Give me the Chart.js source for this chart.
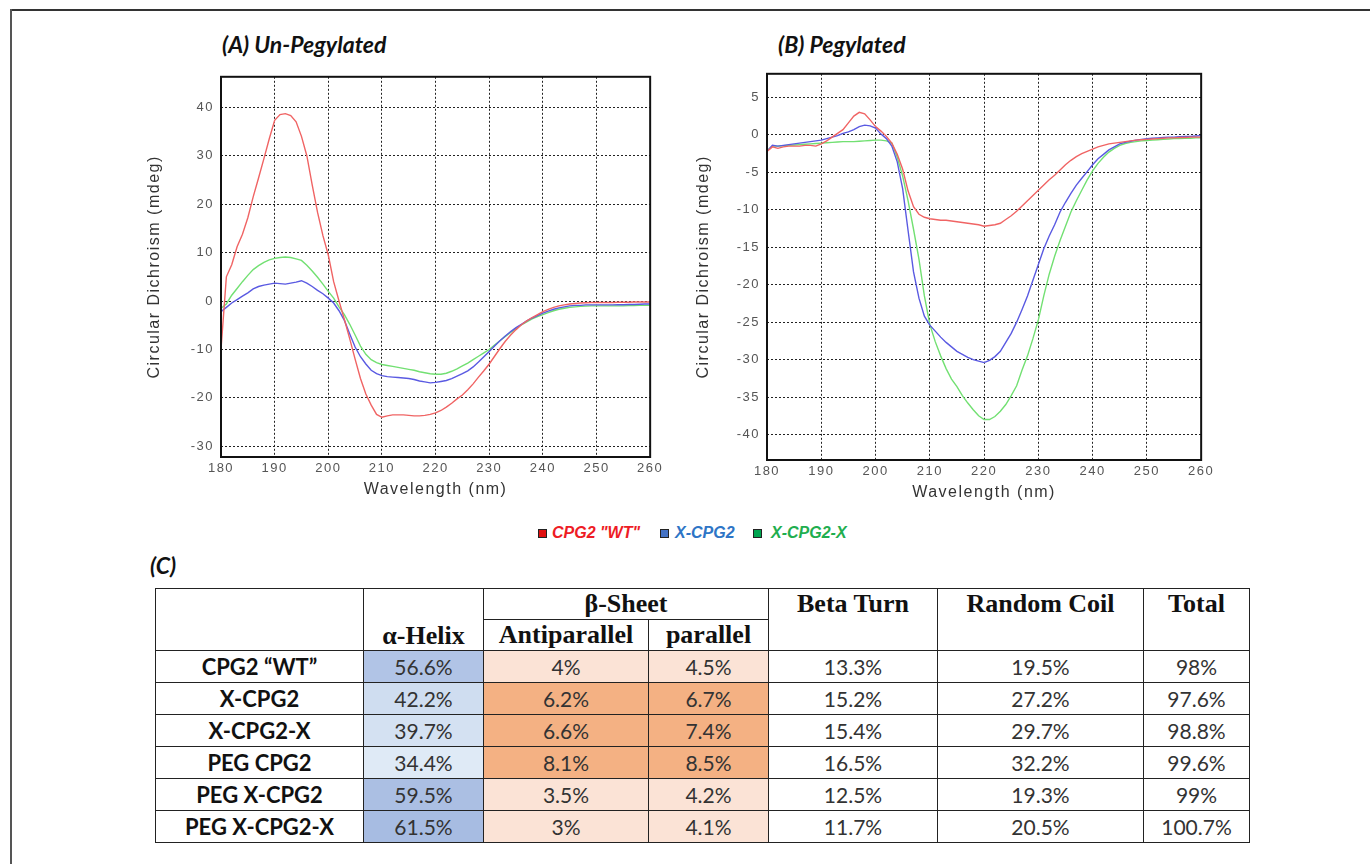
<!DOCTYPE html>
<html>
<head>
<meta charset="utf-8">
<script src="https://cdn.jsdelivr.net/npm/chart.js@4.4.1/dist/chart.umd.min.js"></script>
<style>
  body { margin: 0; width: 1370px; height: 864px; background: #fff; position: relative; overflow: hidden; font-family: "Liberation Sans", Arial, sans-serif; }
  .edge-top { position: absolute; left: 10px; top: 9px; width: 1360px; height: 2px; background: #333; }
  .edge-left { position: absolute; left: 10px; top: 9px; width: 2px; height: 855px; background: #555; }
  .box { position: absolute; }
  .ptitle { position: absolute; font: italic bold 23px Lato, "Open Sans", sans-serif; color: #111; }
  .leg { position: absolute; top: 524px; font: italic bold 16px "Liberation Sans", Arial, sans-serif; line-height: 18px; }
  .sq { position: absolute; top: 529px; width: 7px; height: 7px; border: 1px solid #222; }
  #ctitle { position: absolute; left: 150px; top: 551px; font: italic bold 23px Lato, sans-serif; color: #111; }
  #tbl { position: absolute; left: 155px; top: 588px; border-collapse: collapse; table-layout: fixed; width: 1094px; }
  #tbl th, #tbl td { border: 1.5px solid #222; padding: 0; text-align: center; }
  #tbl th { font: bold 26px "Liberation Serif", "Times New Roman", serif; color: #111; }
  #tbl tr.h1 { height: 30px; }
  #tbl tr.h2 { height: 28px; }
  #tbl th.top { vertical-align: top; line-height: 30px; }
  #tbl th.bot { vertical-align: bottom; line-height: 28px; }
  #tbl tbody tr { height: 32px; }
  #tbl td { font: 21px/30px Lato, sans-serif; color: #333; }
  #tbl td.lab { font: bold 22px/30px Lato, sans-serif; color: #111; }
</style>
</head>
<body>
<div class="edge-top"></div>
<div class="edge-left"></div>

<div class="ptitle" style="left:222px; top:30px;">(A) Un-Pegylated</div>
<div class="ptitle" style="left:778px; top:30px;">(B) Pegylated</div>

<div class="box" style="left:130px; top:62px;"><canvas id="chartA" width="535" height="445"></canvas></div>
<div class="box" style="left:676px; top:59px;"><canvas id="chartB" width="540" height="451"></canvas></div>

<div id="legend"></div>

<div id="ctitle">(C)</div>
<table id="tbl">
  <colgroup>
    <col style="width:208px"><col style="width:120px"><col style="width:165px"><col style="width:120px">
    <col style="width:169px"><col style="width:206px"><col style="width:106px">
  </colgroup>
  <thead>
    <tr class="h1">
      <th rowspan="2"></th>
      <th rowspan="2" class="bot">α-Helix</th>
      <th colspan="2">β-Sheet</th>
      <th rowspan="2" class="top">Beta Turn</th>
      <th rowspan="2" class="top">Random Coil</th>
      <th rowspan="2" class="top">Total</th>
    </tr>
    <tr class="h2"><th>Antiparallel</th><th>parallel</th></tr>
  </thead>
  <tbody id="tb"></tbody>
</table>

<script>
// wavelength (nm)
const wavelengths = [
  180, 181, 182, 183, 184, 185, 186, 187, 188, 189,
  190, 191, 192, 193, 194, 195, 196, 197, 198, 199,
  200, 201, 202, 203, 204, 205, 206, 207, 208, 209,
  210, 211, 212, 213, 214, 215, 216, 217, 218, 219,
  220, 221, 222, 223, 224, 225, 226, 227, 228, 229,
  230, 231, 232, 233, 234, 235, 236, 237, 238, 239,
  240, 241, 242, 243, 244, 245, 246, 247, 248, 249,
  250, 251, 252, 253, 254, 255, 256, 257, 258, 259,
  260
];

// (A) Un-Pegylated, mdeg
const wtUnpeg = [
  -10, 5, 7.5, 11.2, 13.8, 17.2, 21.5, 25.4, 29.4, 33.5,
  37.3, 38.5, 38.7, 38.3, 37, 34, 30, 24, 18.3, 13.5,
  9.5, 4, 0, -3.8, -7.8, -12, -16, -19.2, -21.5, -23.4,
  -24, -23.7, -23.5, -23.5, -23.5, -23.6, -23.7, -23.7, -23.6, -23.4,
  -23.1, -22.6, -21.9, -21.1, -20.2, -19.4, -18.3, -17.1, -15.7, -14.4,
  -13, -11.4, -9.8, -8.3, -7, -5.9, -4.9, -4.1, -3.4, -2.8,
  -2.2, -1.7, -1.3, -1, -0.8, -0.6, -0.5, -0.4, -0.35, -0.3,
  -0.3, -0.3, -0.3, -0.3, -0.25, -0.25, -0.25, -0.2, -0.2, -0.2,
  -0.2
];
const xcpgUnpeg = [
  -2.2, -1.3, -0.4, 0.3, 1.0, 1.7, 2.5, 3.0, 3.3, 3.5,
  3.7, 3.6, 3.5, 3.7, 3.9, 4.2, 3.7, 3.0, 2.2, 1.5,
  0.6, -0.4, -2.0, -4.0, -6.8, -9.5, -11.5, -13.0, -14.3, -15.0,
  -15.4, -15.6, -15.7, -15.8, -15.9, -16.0, -16.2, -16.5, -16.7, -16.9,
  -16.8, -16.6, -16.4, -16.0, -15.5, -15.0, -14.4, -13.6, -12.6, -11.5,
  -10.4, -9.3, -8.2, -7.2, -6.3, -5.5, -4.8, -4.1, -3.5, -3.0,
  -2.5, -2.1, -1.7, -1.4, -1.2, -1.0, -0.9, -0.9, -0.8, -0.8,
  -0.8, -0.8, -0.8, -0.8, -0.75, -0.75, -0.7, -0.7, -0.65, -0.6,
  -0.6
];
const xcpgxUnpeg = [
  -1.5, -0.6, 1.2, 2.6, 4.0, 5.3, 6.5, 7.3, 8.0, 8.5,
  8.8, 9.0, 9.1, 9.0, 8.7, 8.4, 7.4, 6.2, 4.9, 3.5,
  2.0, 0.6, -1.2, -2.8, -4.8, -7.0, -9.3, -11.0, -12.1, -12.7,
  -13.1, -13.3, -13.5, -13.7, -13.9, -14.1, -14.3, -14.6, -14.8, -15.0,
  -15.1, -15.1, -14.9, -14.5, -14.0, -13.4, -12.8, -12.1, -11.4, -10.7,
  -10.0, -9.1, -8.2, -7.3, -6.5, -5.7, -4.9, -4.3, -3.7, -3.2,
  -2.8, -2.4, -2.0, -1.7, -1.5, -1.3, -1.2, -1.1, -1.05, -1.0,
  -1.0, -1.0, -1.0, -1.0, -1.0, -1.0, -0.95, -0.95, -0.9, -0.9,
  -0.9
];

// (B) Pegylated, mdeg
const wtPeg = [
  -2.2, -1.6, -1.8, -1.6, -1.5, -1.5, -1.5, -1.4, -1.4, -1.5,
  -1.2, -0.8, -0.3, 0.2, 0.7, 1.6, 2.5, 3.0, 2.8, 2.0,
  1.1, 0.5, -0.2, -1.1, -2.6, -4.6, -7.5, -9.6, -10.6, -11.0,
  -11.2, -11.3, -11.4, -11.4, -11.5, -11.6, -11.7, -11.8, -11.9, -12.0,
  -12.2, -12.1, -12.0, -11.8, -11.3, -10.8, -10.2, -9.5, -8.8, -8.1,
  -7.4, -6.7, -6.0, -5.4, -4.7, -4.0, -3.4, -2.9, -2.5, -2.2,
  -1.9, -1.6, -1.4, -1.2, -1.1, -1.0, -0.9, -0.8, -0.7, -0.65,
  -0.6, -0.55, -0.5, -0.45, -0.4, -0.4, -0.35, -0.35, -0.3, -0.3,
  -0.3
];
const xcpgPeg = [
  -2.2, -1.4, -1.5, -1.4, -1.3, -1.2, -1.1, -1.0, -0.9, -0.8,
  -0.7, -0.5, -0.3, -0.1, 0.2, 0.4, 0.7, 1.1, 1.3, 1.2,
  0.9, 0.1, -0.5, -1.5, -3.6, -7.2, -12.8, -18.3, -21.8, -24.2,
  -25.4, -26.2, -27.0, -27.7, -28.3, -28.9, -29.3, -29.7, -30.0, -30.2,
  -30.4, -30.1, -29.6, -28.9, -27.7, -26.5, -25.0, -23.3, -21.5, -19.4,
  -17.3, -15.2, -13.5, -12.0, -10.3, -9.0, -7.8, -6.7, -5.8, -4.9,
  -4.0, -3.2, -2.6, -2.0, -1.6, -1.2, -1.0, -0.85, -0.7, -0.6,
  -0.5, -0.45, -0.4, -0.35, -0.3, -0.3, -0.25, -0.2, -0.2, -0.15,
  -0.1
];
const xcpgxPeg = [
  -2.1, -1.5, -1.5, -1.45, -1.4, -1.35, -1.3, -1.25, -1.2, -1.15,
  -1.1, -1.05, -1.0, -0.95, -0.9, -0.9, -0.9, -0.85, -0.8, -0.75,
  -0.7, -0.7, -0.8, -1.1, -3.0, -5.5, -8.8, -12.6, -16.6, -21.5,
  -25.3, -27.6, -29.5, -31.2, -32.6, -33.6, -34.8, -35.8, -36.7, -37.5,
  -38.0, -38.0, -37.6, -36.9, -36.0, -34.8, -33.5, -31.4, -29.5, -27.2,
  -24.7, -21.5, -18.6, -16.2, -14.1, -12.2, -10.3, -8.8, -7.4, -6.0,
  -4.8, -3.8, -3.0, -2.3, -1.8, -1.4, -1.15, -1.0, -0.9, -0.8,
  -0.75, -0.7, -0.65, -0.6, -0.55, -0.5, -0.5, -0.45, -0.45, -0.4,
  -0.4
];

const seriesNames = ['CPG2 "WT"', 'X-CPG2', 'X-CPG2-X'];
const lineColors = ['#f06464', '#5a5ae2', '#72e072'];

// (C) secondary structure table
const rowLabels = ['CPG2 \u201cWT\u201d', 'X-CPG2', 'X-CPG2-X', 'PEG CPG2', 'PEG X-CPG2', 'PEG X-CPG2-X'];
const alphaHelix = [56.6, 42.2, 39.7, 34.4, 59.5, 61.5];
const antiparallel = [4, 6.2, 6.6, 8.1, 3.5, 3];
const parallel = [4.5, 6.7, 7.4, 8.5, 4.2, 4.1];
const betaTurn = [13.3, 15.2, 15.4, 16.5, 12.5, 11.7];
const randomCoil = [19.5, 27.2, 29.7, 32.2, 19.3, 20.5];
const total = [98, 97.6, 98.8, 99.6, 99, 100.7];

// frame round the plot + spaced lettering like the instrument software
const framePlugin = {
  id: 'frame',
  beforeDraw(chart) {
    chart.ctx.letterSpacing = '1.5px';
  },
  afterDraw(chart) {
    const { ctx, chartArea: a } = chart;
    ctx.save();
    ctx.strokeStyle = '#111';
    ctx.lineWidth = 2;
    ctx.strokeRect(a.left, a.top, a.right - a.left, a.bottom - a.top);
    ctx.restore();
  }
};

function makeChart(id, series, yMin, yMax, yStep, yTitlePad) {
  const datasets = series.map((vals, i) => ({
    label: seriesNames[i],
    data: wavelengths.map((w, k) => ({ x: w, y: vals[k] })),
    borderColor: lineColors[i],
    borderWidth: 1.4,
    pointRadius: 0,
    tension: 0,
    fill: false
  }));
  const grid = { color: '#222', lineWidth: 1, drawTicks: false };
  const border = { display: false, dash: [2, 2] };
  return new Chart(document.getElementById(id), {
    type: 'line',
    data: { datasets },
    options: {
      responsive: false,
      animation: false,
      layout: { padding: { left: 0, top: 8, right: id === 'chartA' ? 10 : 11, bottom: 0 } },
      plugins: { legend: { display: false }, tooltip: { enabled: false } },
      scales: {
        x: {
          type: 'linear', min: 180, max: 260,
          grid, border,
          ticks: { stepSize: 10, padding: 4, maxRotation: 0, autoSkip: false, color: '#555', font: { family: 'Liberation Sans', size: 13 } },
          title: { display: true, text: 'Wavelength (nm)', color: '#333', padding: { top: 0, bottom: 8 }, font: { family: 'Liberation Sans', size: 16 } },
          afterFit: s => { s.height = 50; }
        },
        y: {
          min: yMin, max: yMax,
          grid, border,
          ticks: { stepSize: yStep, includeBounds: false, padding: 7, color: '#555', font: { family: 'Liberation Sans', size: 13 } },
          title: { display: true, text: 'Circular Dichroism (mdeg)', color: '#333', padding: { top: yTitlePad, bottom: 0 }, font: { family: 'Liberation Sans', size: 16 } },
          afterFit: s => { s.width = 91; }
        }
      }
    },
    plugins: [framePlugin]
  });
}

makeChart('chartA', [wtUnpeg, xcpgUnpeg, xcpgxUnpeg], -32.2, 46.3, 10, 15);
makeChart('chartB', [wtPeg, xcpgPeg, xcpgxPeg], -43.4, 8.15, 5, 18);

// shared legend
const legendText = ['#ee1c25', '#2e75c6', '#1fae4f'];
const legendFill = ['#e01010', '#4472c4', '#00a550'];
const legendSq = [538, 660, 753];
const legendTx = [552, 675, 771];
const legend = document.getElementById('legend');
seriesNames.forEach((n, i) => {
  const sq = document.createElement('div');
  sq.className = 'sq';
  sq.style.left = legendSq[i] + 'px';
  sq.style.background = legendFill[i];
  legend.appendChild(sq);
  const t = document.createElement('div');
  t.className = 'leg';
  t.style.left = legendTx[i] + 'px';
  t.style.color = legendText[i];
  t.textContent = n;
  legend.appendChild(t);
});

// table body
function helixColor(v) {
  const lo = Math.min(...alphaHelix), hi = Math.max(...alphaHelix);
  const t = (v - lo) / (hi - lo);
  const a = [223, 234, 246], b = [167, 188, 226];
  const c = a.map((x, i) => Math.round(x + (b[i] - x) * t));
  return `rgb(${c[0]},${c[1]},${c[2]})`;
}
const sheetColor = v => (v > 5 ? '#f4b183' : '#fbe3d6');
const pct = v => v + '%';
const tb = document.getElementById('tb');
rowLabels.forEach((lab, i) => {
  const tr = document.createElement('tr');
  tr.innerHTML =
    `<td class="lab">${lab}</td>` +
    `<td style="background:${helixColor(alphaHelix[i])}">${pct(alphaHelix[i])}</td>` +
    `<td style="background:${sheetColor(antiparallel[i])}">${pct(antiparallel[i])}</td>` +
    `<td style="background:${sheetColor(parallel[i])}">${pct(parallel[i])}</td>` +
    `<td>${pct(betaTurn[i])}</td>` +
    `<td>${pct(randomCoil[i])}</td>` +
    `<td>${pct(total[i])}</td>`;
  tb.appendChild(tr);
});
</script>
</body>
</html>
